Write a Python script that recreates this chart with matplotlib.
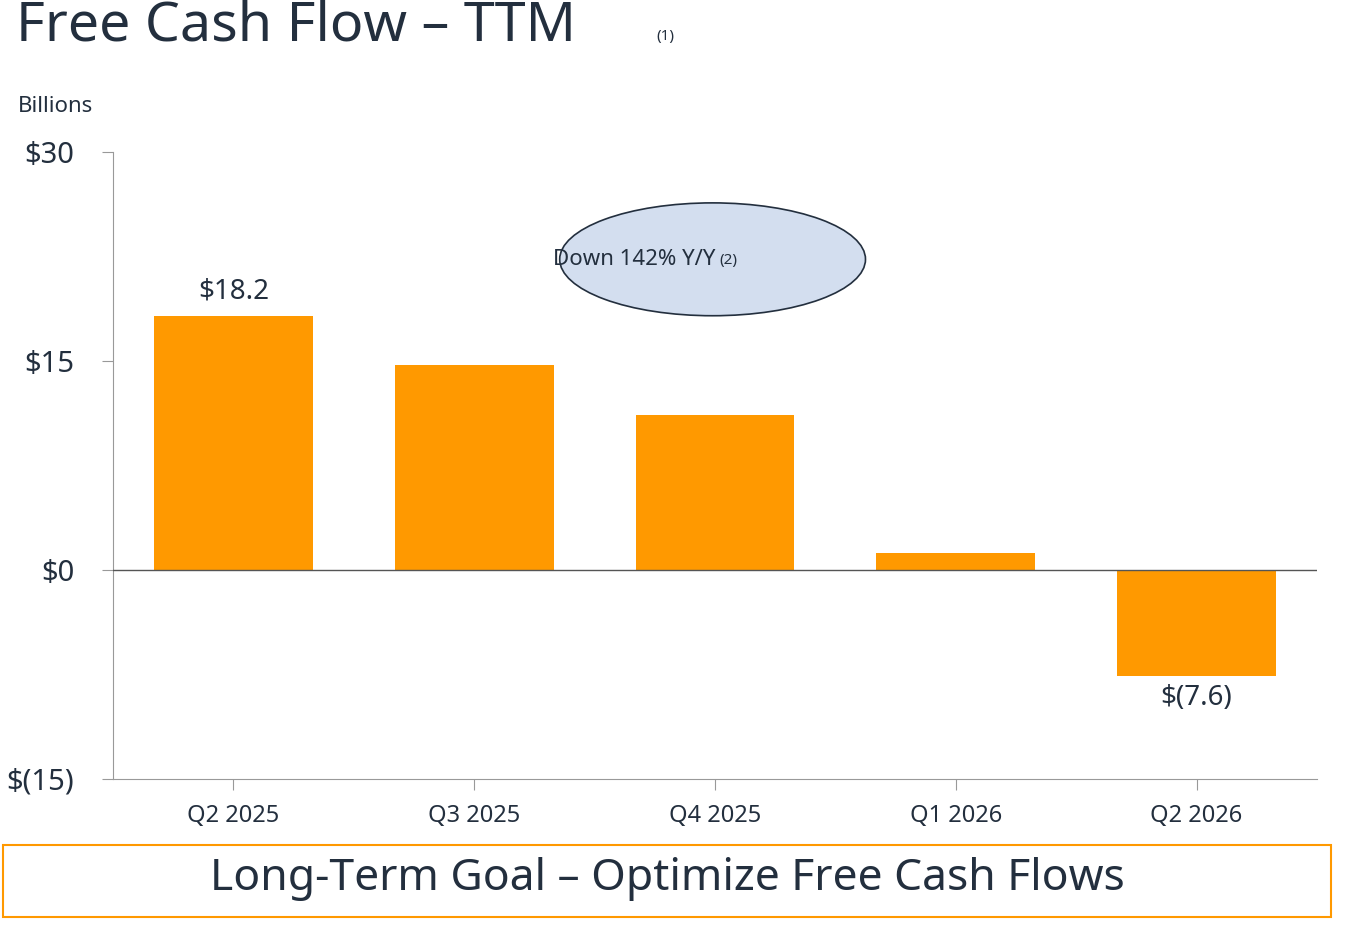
import matplotlib
matplotlib.use("Agg")
import matplotlib.pyplot as plt
from matplotlib.patches import Ellipse, Rectangle

categories = ["Q2 2025", "Q3 2025", "Q4 2025", "Q1 2026", "Q2 2026"]
values = [18.2, 14.7, 11.1, 1.2, -7.6]
labels = {0: "$18.2", 4: "$(7.6)"}
yticks = [-15, 0, 15, 30]
yticklabels = ["$(15)", "$0", "$15", "$30"]

plt.rcParams['font.family'] = ['Noto Sans', 'DejaVu Sans']
navy = "#232F3E"
orange = "#FF9900"

fig = plt.figure(figsize=(13.57, 9.31), dpi=100)
ax = fig.add_axes([0.0833, 0.1633, 0.8872, 0.6734])
x = list(range(len(categories)))
ax.bar(x, values, width=0.66, color=orange, zorder=2)
ax.set_xlim(-0.5, 4.5)
ax.set_ylim(-15, 30)
ax.axhline(0, color="#555555", lw=1, zorder=3)
ax.set_yticks(yticks)
ax.set_yticklabels(yticklabels, fontsize=21, color=navy)
ax.set_xticks(x)
ax.set_xticklabels(categories, fontsize=17, color=navy)
for s in ["top", "right"]:
    ax.spines[s].set_visible(False)
for s in ["left", "bottom"]:
    ax.spines[s].set_color("#999999")
ax.tick_params(axis="both", color="#999999", length=8)
ax.tick_params(axis="y", pad=20)
ax.tick_params(axis="x", pad=10)
for i, t in labels.items():
    v = values[i]
    if v >= 0:
        ax.text(i, v + 0.8, t, ha="center", va="bottom", fontsize=20, color=navy)
    else:
        ax.text(i, v - 0.6, t, ha="center", va="top", fontsize=20, color=navy)

ax.add_patch(Ellipse((1.99, 22.3), 1.27, 8.1, facecolor="#D3DEEF", edgecolor=navy, lw=1.2, zorder=4))
ax.text(1.99, 22.3, "Down 142% Y/Y", ha="right", va="center", fontsize=16, color=navy, zorder=5,
        transform=ax.transData)
ax.text(2.02, 22.2, "(2)", ha="left", va="center", fontsize=11, color=navy, zorder=5)
# adjust main text position to be centered with (2)
ax.texts[-2].set_x(2.0)

fig.text(0.012, 0.972, "Free Cash Flow – TTM", fontsize=40, fontweight="bold", color=navy, va="center")
fig.text(0.484, 0.961, "(1)", fontsize=11, color=navy, va="center")
fig.text(0.013, 0.886, "Billions", fontsize=16, color=navy, va="center")

fig.add_artist(Rectangle((0.002, 0.015), 0.979, 0.077, transform=fig.transFigure,
                         facecolor="none", edgecolor=orange, lw=1.5))
fig.text(0.492, 0.056, "Long-Term Goal – Optimize Free Cash Flows", fontsize=32, color=navy,
         ha="center", va="center")

fig.savefig("out.png", dpi=100)
